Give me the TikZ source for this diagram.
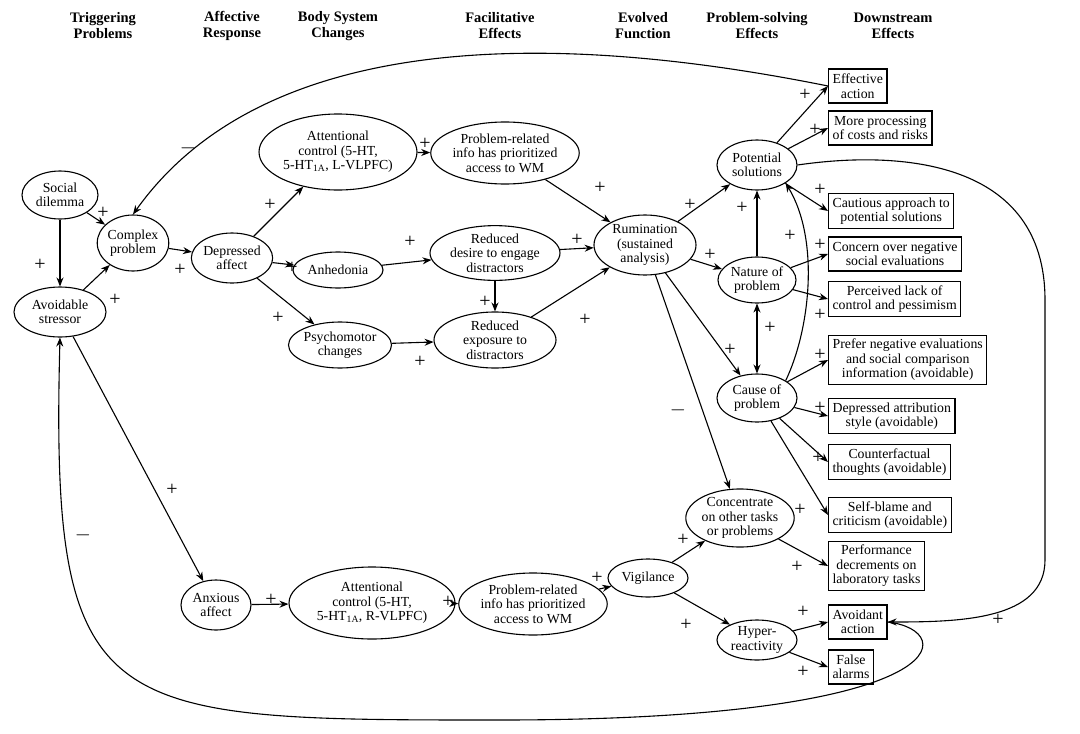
\documentclass[tikz,border=0pt]{standalone}
\usepackage{fontspec}
\setmainfont{Liberation Serif}
\usetikzlibrary{shapes.geometric,arrows.meta}
\begin{document}
\begin{tikzpicture}[x=1pt,y=-1pt,
  every node/.style={font=\fontsize{13.8}{14.5}\selectfont,align=center,inner sep=0pt},
  el/.style={draw,ellipse,line width=1.1pt},
  bx/.style={draw,rectangle,line width=1.2pt,inner sep=4pt,minimum height=34},
  hd/.style={font=\bfseries\fontsize{14.5}{16}\selectfont},
  ar/.style={-{Stealth[length=9pt,width=7pt]},line width=1.1pt},
  pl/.style={font=\fontsize{20}{20}\selectfont}]
\useasboundingbox (0,0) rectangle (1080,734);
% headers
\node[hd] (h1) at (103,26) {Triggering\\Problems};
\node[hd] (h2) at (232,26) {Affective\\Response};
\node[hd] (h3) at (338,26) {Body System\\Changes};
\node[hd] (h4) at (500,26) {Facilitative\\Effects};
\node[hd] (h5) at (643,26) {Evolved\\Function};
\node[hd] (h6) at (757,26) {Problem-solving\\Effects};
\node[hd] (h7) at (893,26) {Downstream\\Effects};
% ellipses
\node[el,minimum width=76,minimum height=48] (sd) at (60,195) {Social\\dilemma};
\node[el,minimum width=92,minimum height=50] (as) at (60,312) {Avoidable\\stressor};
\node[el,minimum width=68,minimum height=56] (cp) at (133,243) {Complex\\problem};
\node[el,minimum width=72,minimum height=50] (da) at (232,258) {Depressed\\affect};
\node[el,minimum width=158,minimum height=76] (at1) at (338,152) {Attentional\\control (5-HT,\\5-HT$_{\mathrm{1A}}$, L-VLPFC)};
\node[el,minimum width=90,minimum height=36] (an) at (338,270) {Anhedonia};
\node[el,minimum width=92,minimum height=46] (pm) at (340,345) {Psychomotor\\changes};
\node[el,minimum width=138,minimum height=62] (pi1) at (505,153) {Problem-related\\info has prioritized\\access to WM};
\node[el,minimum width=130,minimum height=52] (rd) at (495,253) {Reduced\\desire to engage\\distractors};
\node[el,minimum width=122,minimum height=56] (re) at (495,340) {Reduced\\exposure to\\distractors};
\node[el,minimum width=102,minimum height=60] (ru) at (645,245) {Rumination\\(sustained\\analysis)};
\node[el,minimum width=80,minimum height=50] (ps) at (757,165) {Potential\\solutions};
\node[el,minimum width=78,minimum height=46] (np) at (757,280) {Nature of\\problem};
\node[el,minimum width=80,minimum height=48] (cs) at (757,398) {Cause of\\problem};
\node[el,minimum width=106,minimum height=56] (co) at (740,518) {Concentrate\\on other tasks\\or problems};
\node[el,minimum width=80,minimum height=38] (vi) at (648,578) {Vigilance};
\node[el,minimum width=80,minimum height=40] (hy) at (757,640) {Hyper-\\reactivity};
\node[el,minimum width=70,minimum height=50] (aa) at (216,605) {Anxious\\affect};
\node[el,minimum width=166,minimum height=72] (at2) at (372,603) {Attentional\\control (5-HT,\\5-HT$_{\mathrm{1A}}$, R-VLPFC)};
\node[el,minimum width=140,minimum height=62] (pi2) at (533,604) {Problem-related\\info has prioritized\\access to WM};
% boxes
\node[bx,anchor=west] (ea) at (828,86) {Effective\\action};
\node[bx,anchor=west] (mp) at (828,128) {More processing\\of costs and risks};
\node[bx,anchor=west] (ca) at (828,211) {Cautious approach to\\potential solutions};
\node[bx,anchor=west] (cn) at (828,254) {Concern over negative\\social evaluations};
\node[bx,anchor=west] (pe) at (828,299) {Perceived lack of\\control and pessimism};
\node[bx,anchor=west] (pn) at (828,360) {Prefer negative evaluations\\and social comparison\\information (avoidable)};
\node[bx,anchor=west] (dt) at (828,416) {Depressed attribution\\style (avoidable)};
\node[bx,anchor=west] (cf) at (828,462) {Counterfactual\\thoughts (avoidable)};
\node[bx,anchor=west] (sb) at (828,515) {Self-blame and\\criticism (avoidable)};
\node[bx,anchor=west] (pd) at (828,566) {Performance\\decrements on\\laboratory tasks};
\node[bx,anchor=west] (av) at (828,622) {Avoidant\\action};
\node[bx,anchor=west] (fa) at (828,667) {False\\alarms};
% edges
\draw[ar] (sd) -- (cp); \node[pl] (p1) at (103,213) {+};
\draw[ar] (sd) -- (as); \node[pl] (p2) at (40,265) {+};
\draw[ar] (as) -- (cp); \node[pl] (p3) at (115,300) {+};
\draw[ar] (cp) -- (da); \node[pl] (p4) at (180,270) {+};
\draw[ar] (da) -- (at1); \node[pl] (p5) at (270,205) {+};
\draw[ar] (da) -- (an); \node[pl] (p6) at (292,268) {+};
\draw[ar] (da) -- (pm); \node[pl] (p7) at (278,318) {+};
\draw[ar] (at1) -- (pi1); \node[pl] (p8) at (425,144) {+};
\draw[ar] (an) -- (rd); \node[pl] (p9) at (410,242) {+};
\draw[ar] (pm) -- (re); \node[pl] (p10) at (420,362) {+};
\draw[ar] (rd) -- (re); \node[pl] (p11) at (485,302) {+};
\draw[ar] (pi1) -- (ru); \node[pl] (p12) at (600,188) {+};
\draw[ar] (rd) -- (ru); \node[pl] (p13) at (577,240) {+};
\draw[ar] (re) -- (ru); \node[pl] (p14) at (585,320) {+};
\draw[ar] (ru) -- (ps); \node[pl] (p15) at (690,205) {+};
\draw[ar] (ru) -- (np); \node[pl] (p16) at (710,255) {+};
\draw[ar] (ru) -- (cs); \node[pl] (p17) at (730,350) {+};
\draw[ar] (ru) -- (co); \node[pl] (p18) at (678,410) {$-$};
\draw[ar] (np) -- (ps); \node[pl] (p19) at (742,208) {+};
\draw[{Stealth[length=9pt,width=7pt]}-{Stealth[length=9pt,width=7pt]},line width=1.1pt] (cs) -- (np); \node[pl] (p20) at (770,328) {+};
\draw[ar] (cs.north east) .. controls (810,330) and (820,240) .. (ps.south east); \node[pl] (p21) at (790,236) {+};
\draw[ar] (ea.west) .. controls (500,20) and (250,50) .. (cp.north); \node[pl] (p22) at (188,148) {$-$};
\draw[ar] (ps) -- (ea.west); \node[pl] (p23) at (805,95) {+};
\draw[ar] (ps) -- (mp.west); \node[pl] (p24) at (815,130) {+};
\draw[ar] (ps) -- (ca.west); \node[pl] (p25) at (820,190) {+};
\draw[ar] (ps.east) .. controls (900,150) and (1045,160) .. (1045,300) -- (1045,560) .. controls (1045,620) and (960,622) .. (av.east); \node[pl] (p26) at (998,620) {+};
\draw[ar] (np) -- (cn.west); \node[pl] (p27) at (820,245) {+};
\draw[ar] (np) -- (pe.west); \node[pl] (p28) at (820,315) {+};
\draw[ar] (cs) -- (pn.west); \node[pl] (p29) at (820,355) {+};
\draw[ar] (cs) -- (dt.west); \node[pl] (p30) at (820,408) {+};
\draw[ar] (cs) -- (cf.west); \node[pl] (p31) at (818,458) {+};
\draw[ar] (cs) -- (sb.west); \node[pl] (p32) at (800,510) {+};
\draw[ar] (co) -- (pd.west); \node[pl] (p33) at (797,567) {+};
\draw[ar] (vi) -- (co); \node[pl] (p34) at (683,540) {+};
\draw[ar] (vi) -- (hy); \node[pl] (p35) at (686,625) {+};
\draw[ar] (hy) -- (av.west); \node[pl] (p36) at (803,612) {+};
\draw[ar] (hy) -- (fa.west); \node[pl] (p37) at (803,672) {+};
\draw[ar] (as) -- (aa); \node[pl] (p38) at (172,490) {+};
\draw[ar] (aa) -- (at2); \node[pl] (p39) at (271,600) {+};
\draw[ar] (at2) -- (pi2); \node[pl] (p40) at (448,602) {+};
\draw[ar] (pi2) -- (vi); \node[pl] (p41) at (597,578) {+};
\draw[ar] (av.east) .. controls (960,630) and (960,720) .. (500,720) .. controls (100,720) and (50,720) .. (as.south); \node[pl] (p42) at (83,535) {$-$};
\end{tikzpicture}
\end{document}
